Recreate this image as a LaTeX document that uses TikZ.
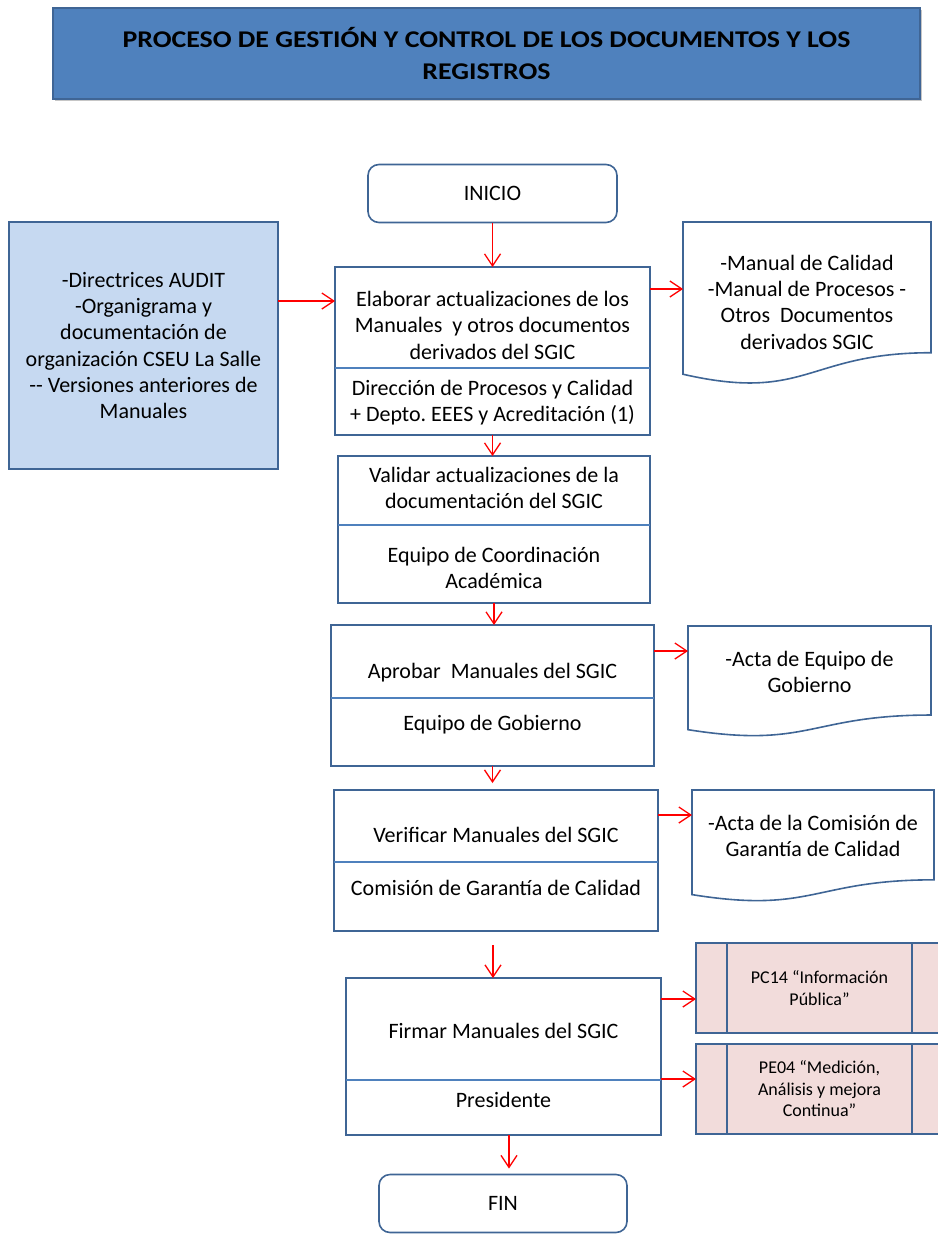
\documentclass[tikz,border=0pt]{standalone}
\usepackage{fontspec}
\setmainfont{Carlito}
\newfontfamily\titlefamily[FakeStretch=1.16]{Carlito}
\usepackage{xcolor}
\usetikzlibrary{arrows.meta, positioning, calc, shadows}
\definecolor{titleblue}{HTML}{4F81BD}
\definecolor{edgeblue}{HTML}{3F6595}
\definecolor{lineblue}{HTML}{4F81BD}
\definecolor{inputblue}{HTML}{C6D9F1}
\definecolor{procpink}{HTML}{F2DCDB}
\definecolor{flowred}{HTML}{FF0000}
\frenchspacing
\newcommand{\bodyfont}{\fontsize{22}{26.3}\selectfont}
\newcommand{\smallfont}{\fontsize{18}{21.5}\selectfont}
\newcommand{\titlefont}{\titlefamily\fontsize{24}{32}\selectfont\bfseries}
% centred lines, moved up or down inside their box
\newcommand{\boxtext}[2][0pt]{\raisebox{#1}[\height][\depth]{\begin{tabular}{@{}c@{}}#2\end{tabular}}}
% outline of a document symbol, drawn round a named node
\newcommand{\docoutline}[1]{%
  \draw[docline] (#1.north west) -- (#1.north east)
    -- ($(#1.north east)!0.802!(#1.south east)$)
    .. controls ($(#1.north)!0.802!(#1.south)$) and ($(#1.north)!1.108!(#1.south)$)
    .. ($(#1.north west)!0.934!(#1.south west)$) -- cycle;}

\begin{document}
\begin{tikzpicture}[x=1pt, y=-1pt,
  every node/.style={outer sep=0pt},
  titlebox/.style={draw=edgeblue, line width=2pt, fill=titleblue, minimum width=867pt, minimum height=91pt, align=center, font=\titlefont, drop shadow={shadow xshift=2pt, shadow yshift=-2pt, opacity=0.45}},
  termbox/.style={draw=edgeblue, line width=1.6pt, rounded corners=11pt, minimum height=58pt, font=\bodyfont},
  inbox/.style={draw=edgeblue, line width=1.6pt, fill=inputblue, minimum width=269pt, minimum height=247pt, align=center, font=\bodyfont},
  part/.style={minimum width=#1, inner sep=0pt, font=\bodyfont},
  boxline/.style={draw=edgeblue, line width=1.6pt},
  divline/.style={draw=lineblue, line width=1.1pt},
  docbox/.style={inner sep=0pt, font=\bodyfont},
  docline/.style={draw=edgeblue, line width=1.6pt},
  subproc/.style={draw=edgeblue, line width=1.6pt, fill=procpink, minimum width=247pt, minimum height=90pt, align=center, font=\smallfont},
  arr/.style={draw=flowred, line width=1.3pt, -{Straight Barb[length=12pt, width=16pt]}},
]
  \useasboundingbox (0,0) rectangle (937,1234);

  % Title
  \node[titlebox] (title) at (486.5,53.5) {PROCESO DE GESTIÓN Y CONTROL DE LOS DOCUMENTOS Y LOS\\REGISTROS};

  % Start and inputs
  \node[termbox, minimum width=249pt] (inicio) at (492.5,193.5) {INICIO};
  \node[inbox] (inputs) at (143.5,345.5) {-Directrices AUDIT\\-Organigrama y\\documentación de\\organización CSEU La Salle\\{-}{-} Versiones anteriores de\\Manuales};

  % Step 1
  \node[part=315pt, minimum height=101pt, anchor=north] (elab) at (492.5,267) {\boxtext[-10pt]{Elaborar actualizaciones de los\\Manuales\ \ y otros documentos\\derivados del SGIC}};
  \node[part=315pt, minimum height=67pt, below=0pt of elab] (elabresp) {\boxtext[-2pt]{Dirección de Procesos y Calidad\\+ Depto. EEES y Acreditación (1)}};
  \draw[boxline] (elab.north west) rectangle (elabresp.south east);
  \draw[divline] (elab.south west) -- (elab.south east);

  % Step 2
  \node[part=312pt, minimum height=69pt, anchor=north] (valid) at (494,456) {\boxtext{Validar actualizaciones de la\\documentación del SGIC}};
  \node[part=312pt, minimum height=78pt, below=0pt of valid] (validresp) {\boxtext[-6pt]{Equipo de Coordinación\\Académica}};
  \draw[boxline] (valid.north west) rectangle (validresp.south east);
  \draw[divline] (valid.south west) -- (valid.south east);

  % Step 3
  \node[part=323pt, minimum height=73pt, anchor=north] (aprob) at (492.5,625) {\boxtext[-12pt]{Aprobar\ \ Manuales del SGIC}};
  \node[part=323pt, minimum height=68pt, below=0pt of aprob] (aprobresp) {\boxtext[7pt]{Equipo de Gobierno}};
  \draw[boxline] (aprob.north west) rectangle (aprobresp.south east);
  \draw[divline] (aprob.south west) -- (aprob.south east);

  % Step 4
  \node[part=324pt, minimum height=72pt, anchor=north] (verif) at (496,790) {\boxtext[-11pt]{Verificar Manuales del SGIC}};
  \node[part=324pt, minimum height=69pt, below=0pt of verif] (verifresp) {\boxtext[6pt]{Comisión de Garantía de Calidad}};
  \draw[boxline] (verif.north west) rectangle (verifresp.south east);
  \draw[divline] (verif.south west) -- (verif.south east);

  % Step 5
  \node[part=315pt, minimum height=102pt, anchor=north] (firm) at (503.5,978) {\boxtext[-4pt]{Firmar Manuales del SGIC}};
  \node[part=315pt, minimum height=55pt, below=0pt of firm] (firmresp) {\boxtext[5pt]{Presidente}};
  \draw[boxline] (firm.north west) rectangle (firmresp.south east);
  \draw[divline] (firm.south west) -- (firm.south east);

  \node[termbox, minimum width=248pt] (fin) at (503,1203.5) {FIN};

  % Documents
  \node[docbox, minimum width=248pt, minimum height=163pt] (doc1) at (807,303.5) {\boxtext[-1pt]{-Manual de Calidad\\-Manual de Procesos -\\Otros\ \ Documentos\\derivados SGIC}};
  \docoutline{doc1}
  \node[docbox, minimum width=243pt, minimum height=111pt] (doc2) at (809.5,681.5) {\boxtext[7pt]{-Acta de Equipo de\\Gobierno}};
  \docoutline{doc2}
  \node[docbox, minimum width=242pt, minimum height=112pt] (doc3) at (813,846) {\boxtext[8pt]{-Acta de la Comisión de\\Garantía de Calidad}};
  \docoutline{doc3}

  % Linked processes
  \node[subproc] (pc14) at (819.5,988) {PC14 “Información\\Pública”};
  \node[subproc] (pe04) at (819.5,1089) {PE04 “Medición,\\Análisis y mejora\\Continua”};
  \foreach \p in {pc14, pe04} {
    \draw[boxline] ([xshift=31pt]\p.north west) -- ([xshift=31pt]\p.south west);
    \draw[boxline] ([xshift=-31pt]\p.north east) -- ([xshift=-31pt]\p.south east);
  }

  % Flow
  \draw[arr] (inicio.south) -- (inicio.south |- elab.north);
  \coordinate (in1) at ([yshift=44.5pt]inputs.east);
  \draw[arr] (in1) -- (in1 -| elab.west);
  \coordinate (out1) at ([yshift=-22pt]elab.north east);
  \draw[arr] (out1) -- (out1 -| doc1.west);
  \draw[arr] (elabresp.south) -- (elabresp.south |- valid.north);
  \draw[arr] (validresp.south) -- (validresp.south |- aprob.north);
  \coordinate (out2) at ([yshift=-26pt]aprob.north east);
  \draw[arr] (out2) -- (out2 -| doc2.west);
  \draw[arr, shorten >=7pt] (aprobresp.south) -- (aprobresp.south |- verif.north);
  \coordinate (out3) at ([yshift=-25pt]verif.north east);
  \draw[arr] (out3) -- (out3 -| doc3.west);
  \draw[arr, shorten <=14pt] ([xshift=-3pt]verifresp.south) -- ([xshift=-3pt]verifresp.south |- firm.north);
  \coordinate (out4) at ([yshift=-21pt]firm.north east);
  \draw[arr] (out4) -- (out4 -| pc14.west);
  \coordinate (out5) at ([yshift=1pt]firm.south east);
  \draw[arr] (out5) -- (out5 -| pe04.west);
  \draw[arr, shorten >=6pt] ([xshift=5.5pt]firmresp.south) -- ([xshift=5.5pt]firmresp.south |- fin.north);
\end{tikzpicture}
\end{document}
